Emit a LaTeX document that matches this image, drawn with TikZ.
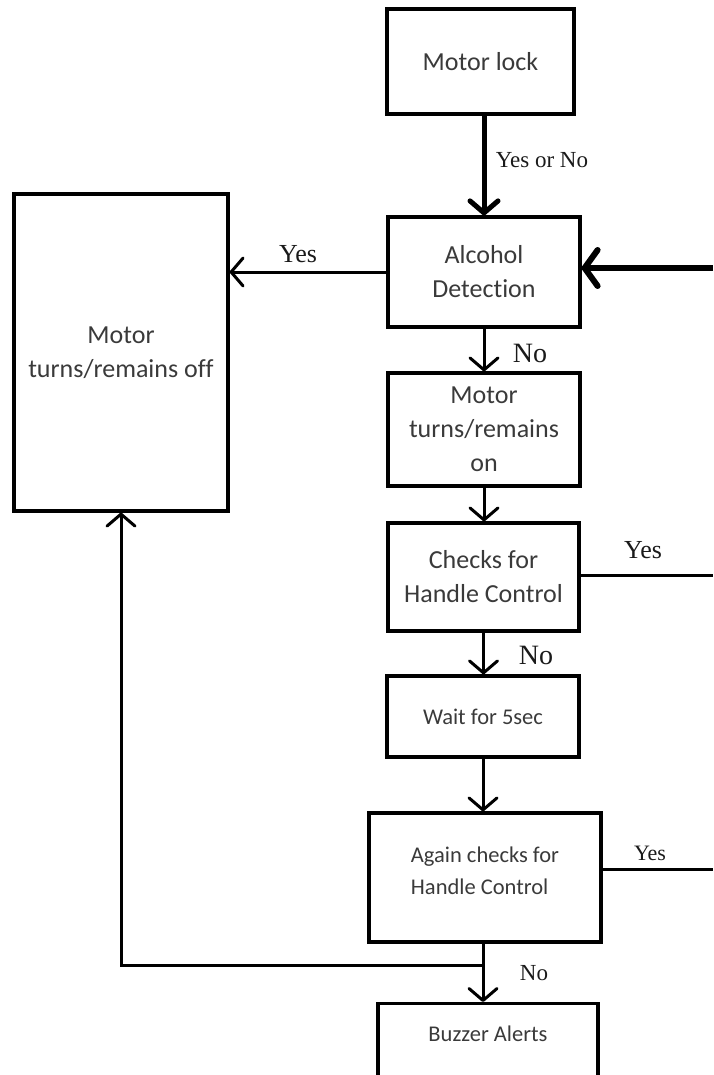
\documentclass[tikz,border=0pt]{standalone}
\usepackage{fontspec}
\setmainfont{Liberation Serif}
\newfontfamily\boxfont[Ligatures={NoCommon,NoContextual}]{Carlito}
\usetikzlibrary{arrows.meta}
\definecolor{txtgray}{HTML}{3A3A3A}
\definecolor{lblblack}{HTML}{1A1A1A}
\begin{document}
\begin{tikzpicture}[x=1pt,y=-1pt,
  box/.style={draw=black,line width=3.2pt,inner sep=0pt,align=center,text=txtgray,
    font=\boxfont\fontsize{26}{34}\selectfont},
  smallbox/.style={box,font=\boxfont\fontsize{22.5}{32}\selectfont},
  lbl/.style={text=lblblack,inner sep=0pt},
  conn/.style={line width=3pt},
  arr/.style={conn,-{Straight Barb[length=12pt,width=28pt,round]}}]
\useasboundingbox (0,0) rectangle (713,1075);
\clip (0,0) rectangle (713,1075);

% boxes
\node[box,minimum width=187pt,minimum height=105pt] (lock) at (480.5,61.5) {Motor lock};
\node[box,minimum width=192pt,minimum height=110pt] (alc) at (484,272) {Alcohol\\Detect\kern0pt ion};
\node[box,minimum width=214pt,minimum height=317pt] (off) at (121,352.5) {Motor\\turns/remains of\kern0pt f};
\node[box,minimum width=192pt,minimum height=113pt] (on) at (484,429.5) {Motor\\turns/remains\\on};
\node[box,minimum width=191pt,minimum height=108pt] (chk) at (483.5,577) {Checks for\\Handle Control};
\node[smallbox,minimum width=192pt,minimum height=81pt] (wait) at (483,716.5) {Wait for 5sec};
\node[smallbox,minimum width=232pt,minimum height=129pt,align=left,text depth=14pt] (again) at (485,877.5) {Again checks for\\Handle Control};
\node[smallbox,anchor=north,minimum width=220pt,text height=38pt,text depth=50pt] (buzz) at (488,1002) {Buzzer Alerts};

% labels
\node[lbl,font=\fontsize{23}{27}\selectfont] (l1) at (542,160) {Yes or No};
\node[lbl,font=\fontsize{26}{30}\selectfont] (l2) at (298,254) {Yes};
\node[lbl,font=\fontsize{28}{32}\selectfont] (l3) at (530,353) {No};
\node[lbl,font=\fontsize{26}{30}\selectfont] (l4) at (643,550) {Yes};
\node[lbl,font=\fontsize{28}{32}\selectfont] (l5) at (536,655) {No};
\node[lbl,font=\fontsize{22}{26}\selectfont] (l6) at (650,853) {Yes};
\node[lbl,font=\fontsize{23}{27}\selectfont] (l7) at (534,973) {No};

% free ends
\coordinate (rin) at (713,268);
\coordinate (r1) at (713,575);
\coordinate (r2) at (713,869);
\coordinate (j) at (483,965);

% connectors
\draw[arr,line width=5pt] (alc.north |- lock.south) -- (alc.north);
\draw[arr] (alc.west) -- (alc.west -| off.east);
\draw[conn,line width=6pt,-{Straight Barb[length=13pt,width=36pt,round]}] (rin) -- (rin -| alc.east);
\draw[arr] (alc.south) -- (on.north);
\draw[arr] (on.south) -- (on.south |- chk.north);
\draw[conn] (chk.east |- r1) -- (r1);
\draw[arr] (chk.south) -- (chk.south |- wait.north);
\draw[arr] (wait.south) -- (wait.south |- again.north);
\draw[conn] (again.east |- r2) -- (r2);
\draw[arr] (wait.south |- again.south) -- (wait.south |- buzz.north);
\draw[arr] (j) -| (off.south);
\end{tikzpicture}
\end{document}
